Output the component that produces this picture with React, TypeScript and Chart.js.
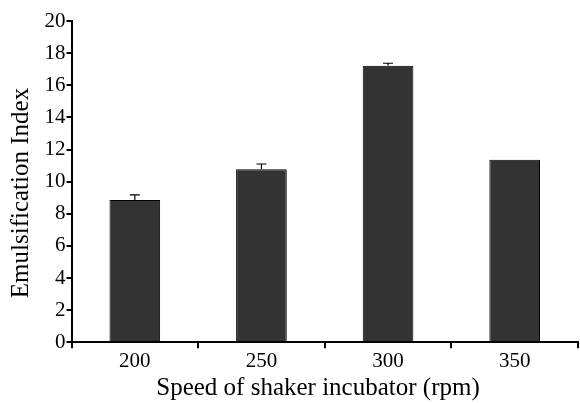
import React, { useEffect, useRef } from "react";
import { Chart, registerables } from "chart.js";

Chart.register(...registerables);

const categories = ["200", "250", "300", "350"];
const values = [8.85, 10.77, 17.22, 11.37];
const errors = [0.33, 0.33, 0.15, 0];
const xTitle = "Speed of shaker incubator (rpm)";
const yTitle = "Emulsification Index";

const FONT = "'Liberation Serif', 'Times New Roman', serif";

const errorBarPlugin = {
  id: "errorBars",
  afterDatasetsDraw(chart: any) {
    const meta = chart.getDatasetMeta(0);
    const y = chart.scales.y;
    const ctx = chart.ctx;
    ctx.save();
    ctx.strokeStyle = "#000";
    ctx.lineWidth = 1.2;
    meta.data.forEach((bar: any, i: number) => {
      const e = errors[i];
      if (!e) return;
      const top = y.getPixelForValue(values[i] + e);
      const base = y.getPixelForValue(values[i]);
      const x = bar.x;
      ctx.beginPath();
      ctx.moveTo(x, base);
      ctx.lineTo(x, top);
      ctx.moveTo(x - 5, top);
      ctx.lineTo(x + 5, top);
      ctx.stroke();
    });
    ctx.restore();
  },
};

const titlesPlugin = {
  id: "axisTitles",
  afterDraw(chart: any) {
    const ctx = chart.ctx;
    ctx.save();
    ctx.fillStyle = "#000";
    ctx.font = `25px ${FONT}`;
    ctx.textAlign = "center";
    ctx.textBaseline = "middle";
    ctx.fillText(xTitle, 318, 388);
    ctx.translate(21, 193);
    ctx.rotate(-Math.PI / 2);
    ctx.fillText(yTitle, 0, 0);
    ctx.restore();
  },
};

export default function App() {
  const ref = useRef<HTMLCanvasElement>(null);
  useEffect(() => {
    if (!ref.current) return;
    const chart = new Chart(ref.current, {
      type: "bar",
      data: {
        labels: categories,
        datasets: [
          {
            data: values,
            backgroundColor: "#333333",
            borderColor: "#000000",
            borderWidth: 1,
            categoryPercentage: 1,
            barPercentage: 0.4,
          },
        ],
      },
      options: {
        animation: false,
        responsive: true,
        maintainAspectRatio: false,
        layout: { padding: { top: 21, right: 2, left: 43.5, bottom: 27.5 } },
        plugins: { legend: { display: false }, tooltip: { enabled: false } },
        scales: {
          x: {
            offset: true,
            grid: {
              display: true,
              offset: true,
              drawOnChartArea: false,
              drawTicks: true,
              tickLength: 6,
              color: "#000",
              lineWidth: 2,
            },
            border: { display: true, color: "#000", width: 2 },
            ticks: { color: "#000", font: { family: FONT, size: 21 }, padding: 1 },
          },
          y: {
            min: 0,
            max: 20,
            ticks: { stepSize: 2, color: "#000", font: { family: FONT, size: 21 }, padding: 1 },
            grid: {
              display: true,
              drawOnChartArea: false,
              drawTicks: true,
              tickLength: 5,
              color: "#000",
              lineWidth: 2,
            },
            border: { display: true, color: "#000", width: 2 },
          },
        },
      },
      plugins: [errorBarPlugin, titlesPlugin],
    });
    return () => chart.destroy();
  }, []);
  return (
    <div style={{ position: "fixed", left: 0, top: 0, width: 580, height: 403, background: "#fff" }}>
      <canvas ref={ref} />
    </div>
  );
}
